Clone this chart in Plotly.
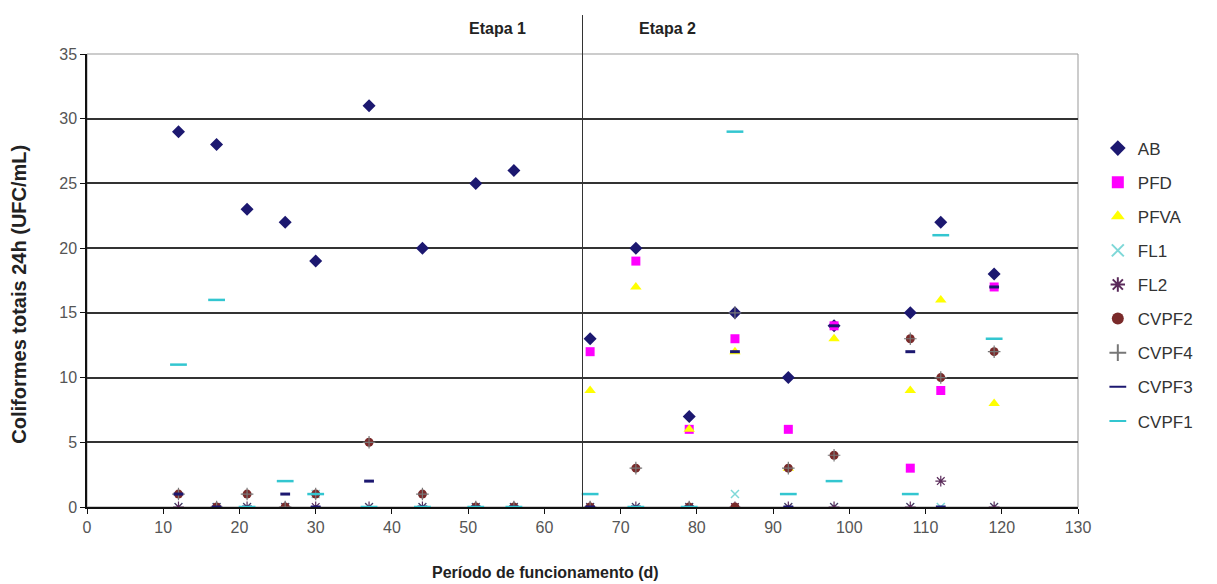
import plotly.graph_objects as go

days = [12, 17, 21, 26, 30, 37, 44, 51, 56, 66, 72, 79, 85, 92, 98, 108, 112, 119]
N = None
ab = [29, 28, 23, 22, 19, 31, 20, 25, 26, 13, 20, 7, 15, 10, 14, 15, 22, 18]
pfd = [N, N, N, N, N, N, N, N, N, 12, 19, 6, 13, 6, 14, 3, 9, 17]
pfva = [N, N, N, N, N, N, N, N, N, 9, 17, 6, 12, 3, 13, 9, 16, 8]
fl1 = [0, 0, 0, 0, 1, 0, 0, 0, 0, 0, 0, 0, 1, 0, 0, 0, 0, 0]
fl2 = [0, 0, 0, 0, 0, 0, 0, 0, 0, 0, 0, 0, 0, 0, 0, 0, 2, 0]
cvpf2 = [1, 0, 1, 0, 1, 5, 1, 0, 0, 0, 3, 0, 0, 3, 4, 13, 10, 12]
cvpf4 = [1, 0, 1, 0, 1, 5, 1, 0, 0, 0, 3, 0, 15, 3, 4, 13, 10, 12]
cvpf3 = [1, 0, 0, 1, 0, 2, 0, 0, 0, 0, 0, 0, 12, 0, 14, 12, 0, 17]
cvpf1 = [11, 16, 0, 2, 1, 0, 0, 0, 0, 1, 0, 0, 29, 1, 2, 1, 21, 13]

FONT = "Liberation Sans, Arial, sans-serif"

series = [
    ("AB", ab, dict(symbol="diamond", color="#1c1870", size=10)),
    ("PFD", pfd, dict(symbol="square", color="#ff00ff", size=9)),
    ("PFVA", pfva, dict(symbol="triangle-up", color="#ffff00", size=10)),
    ("FL1", fl1, dict(symbol="x-thin-open", color="#7fd8d8", size=8, line=dict(width=1.5))),
    ("FL2", fl2, dict(symbol="asterisk-open", color="#5a2a5a", size=9, line=dict(width=1.2))),
    ("CVPF2", cvpf2, dict(symbol="circle", color="#7a2a2a", size=9)),
    ("CVPF4", cvpf4, dict(symbol="cross-thin-open", color="#777777", size=9, line=dict(width=1.2))),
    ("CVPF3", cvpf3, dict(symbol="line-ew-open", color="#1c1870", size=7, line=dict(width=3))),
    ("CVPF1", cvpf1, dict(symbol="line-ew-open", color="#33c6d0", size=12, line=dict(width=2.5))),
]

fig = go.Figure()
for name, vals, marker in series:
    fig.add_trace(go.Scatter(
        x=days, y=vals, mode="markers", name=name, marker=marker,
        legendgroup=name,
    ))

# plot border (grey) and stage divider
fig.add_shape(type="rect", xref="paper", yref="paper", x0=0, x1=1, y0=0, y1=1,
              line=dict(color="#999999", width=1), layer="below")
fig.add_shape(type="line", xref="x", yref="paper", x0=65, x1=65, y0=0, y1=1.086,
              line=dict(color="#333333", width=1))

fig.add_annotation(x=53.8, y=1.057, xref="x", yref="paper", text="<b>Etapa 1</b>",
                   showarrow=False, yanchor="middle",
                   font=dict(size=16, color="#222222", family=FONT))
fig.add_annotation(x=76.2, y=1.057, xref="x", yref="paper", text="<b>Etapa 2</b>",
                   showarrow=False, yanchor="middle",
                   font=dict(size=16, color="#222222", family=FONT))
fig.add_annotation(x=(545 - 87) / 991, y=-0.144, xref="paper", yref="paper",
                   text="<b>Período de funcionamento (d)</b>", showarrow=False,
                   yanchor="middle", font=dict(size=16, color="#222222", family=FONT))
fig.add_annotation(x=-0.069, y=0.47, xref="paper", yref="paper",
                   text="<b>Coliformes totais 24h (UFC/mL)</b>", showarrow=False,
                   textangle=-90, xanchor="center",
                   font=dict(size=20, color="#222222", family=FONT))

fig.update_layout(
    width=1209, height=576,
    margin=dict(l=79, r=139, t=46, b=77),
    plot_bgcolor="white", paper_bgcolor="white",
    font=dict(family=FONT, size=16, color="#555555"),
    showlegend=True,
    legend=dict(x=1.02, y=0.831, xanchor="left", yanchor="top",
                font=dict(size=17, color="#333333"), tracegroupgap=9,
                itemsizing="constant", bgcolor="rgba(0,0,0,0)"),
)
fig.update_xaxes(range=[0, 130], dtick=10, tick0=0, showgrid=False, zeroline=False,
                 showline=True, linecolor="#111111", linewidth=1.5,
                 ticks="outside", ticklen=5, tickcolor="#111111")
fig.update_yaxes(range=[0, 35], dtick=5, showgrid=True, gridcolor="#333333", gridwidth=1.5,
                 zeroline=False, showline=True, linecolor="#111111", linewidth=1.5,
                 ticks="outside", ticklen=5, tickcolor="#111111")

fig.write_html("out.html")
